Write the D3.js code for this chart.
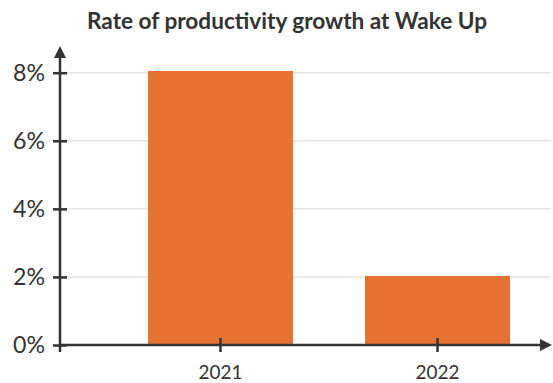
<!DOCTYPE html>
<html>
<head>
<meta charset="utf-8">
<script src="https://cdn.jsdelivr.net/npm/d3@7"></script>
<style>
  html, body { margin: 0; padding: 0; background: #fff; }
  svg { display: block; font-family: Lato, "Open Sans", sans-serif; }
</style>
</head>
<body>
<svg id="chart" width="553" height="383"></svg>
<script>
// Chart data
const title = "Rate of productivity growth at Wake Up";
const years = ["2021", "2022"];
const growthRates = [8.05, 2.03];
const yTicks = [0, 2, 4, 6, 8];

const width = 553, height = 383;
const ink = "#333333";
const barColor = "#e57233";

const svg = d3.select("#chart");

// Scales
const x = d3.scaleBand()
  .domain(years)
  .range([60, 598])
  .paddingInner(0.332)
  .paddingOuter(0.4055);

const y = d3.scaleLinear()
  .domain([0, 8])
  .range([345, 72.7]);

// Title
const titleText = svg.append("text")
  .attr("x", 287)
  .attr("y", 29)
  .attr("text-anchor", "middle")
  .attr("font-size", 19)
  .attr("font-weight", 700)
  .attr("fill", ink)
  .text(title);

// Horizontal gridlines
svg.append("g")
  .selectAll("line")
  .data(yTicks.filter(d => d > 0))
  .join("line")
  .attr("x1", 60)
  .attr("x2", 551)
  .attr("y1", d => y(d))
  .attr("y2", d => y(d))
  .attr("stroke", "#e3e3e3")
  .attr("stroke-width", 1.5);

// Bars
svg.append("g")
  .selectAll("rect")
  .data(years.map((yr, i) => ({ yr, v: growthRates[i] })))
  .join("rect")
  .attr("x", d => x(d.yr))
  .attr("width", x.bandwidth())
  .attr("y", d => y(d.v))
  .attr("height", d => y(0) - y(d.v))
  .attr("fill", barColor);

// Y axis with crossing ticks
const yAxis = svg.append("g")
  .attr("transform", "translate(60,0)")
  .call(d3.axisLeft(y).tickValues(yTicks).tickFormat(d => d + "%").tickSize(0).tickPadding(15));
yAxis.select(".domain").remove();
yAxis.selectAll(".tick line")
  .attr("x1", -7).attr("x2", 7)
  .attr("stroke", ink).attr("stroke-width", 2.5);
yAxis.selectAll(".tick text")
  .attr("font-family", "Lato, sans-serif")
  .attr("font-size", 18)
  .attr("fill", ink);

// X axis with crossing ticks
const xAxis = svg.append("g")
  .attr("transform", `translate(0,${y(0)})`)
  .call(d3.axisBottom(x).tickSize(0));
xAxis.select(".domain").remove();
xAxis.selectAll(".tick line")
  .attr("y1", -7).attr("y2", 7)
  .attr("stroke", ink).attr("stroke-width", 2.5);
xAxis.selectAll(".tick text")
  .attr("font-family", "Lato, sans-serif")
  .attr("font-size", 19.5)
  .attr("y", 33.5)
  .attr("dy", null)
  .attr("fill", ink);

// Scale a text element's font size so its rendered width hits a target
function fitWidth(sel, target) {
  const node = sel.node();
  const fs = parseFloat(sel.attr("font-size"));
  const w = node.getComputedTextLength();
  if (w > 0) sel.attr("font-size", (fs * target / w).toFixed(2));
}
fitWidth(titleText, 400);
const yLabelEight = yAxis.selectAll(".tick text").filter(d => d === 8);
fitWidth(yLabelEight, 32);
yAxis.selectAll(".tick text").attr("font-size", yLabelEight.attr("font-size"));
const xLabelFirst = xAxis.selectAll(".tick text").filter((d, i) => i === 0);
fitWidth(xLabelFirst, 44);
xAxis.selectAll(".tick text").attr("font-size", xLabelFirst.attr("font-size"));

// Axis lines with arrowheads
svg.append("line")
  .attr("x1", 60).attr("x2", 60)
  .attr("y1", 352).attr("y2", 56)
  .attr("stroke", ink).attr("stroke-width", 2.5);
svg.append("path")
  .attr("d", "M60,46 L66,58 L54,58 Z")
  .attr("fill", ink);

svg.append("line")
  .attr("x1", 60).attr("x2", 543)
  .attr("y1", y(0)).attr("y2", y(0))
  .attr("stroke", ink).attr("stroke-width", 2.5);
svg.append("path")
  .attr("d", `M552,${y(0)} L540,${y(0) - 6} L540,${y(0) + 6} Z`)
  .attr("fill", ink);
</script>
</body>
</html>
